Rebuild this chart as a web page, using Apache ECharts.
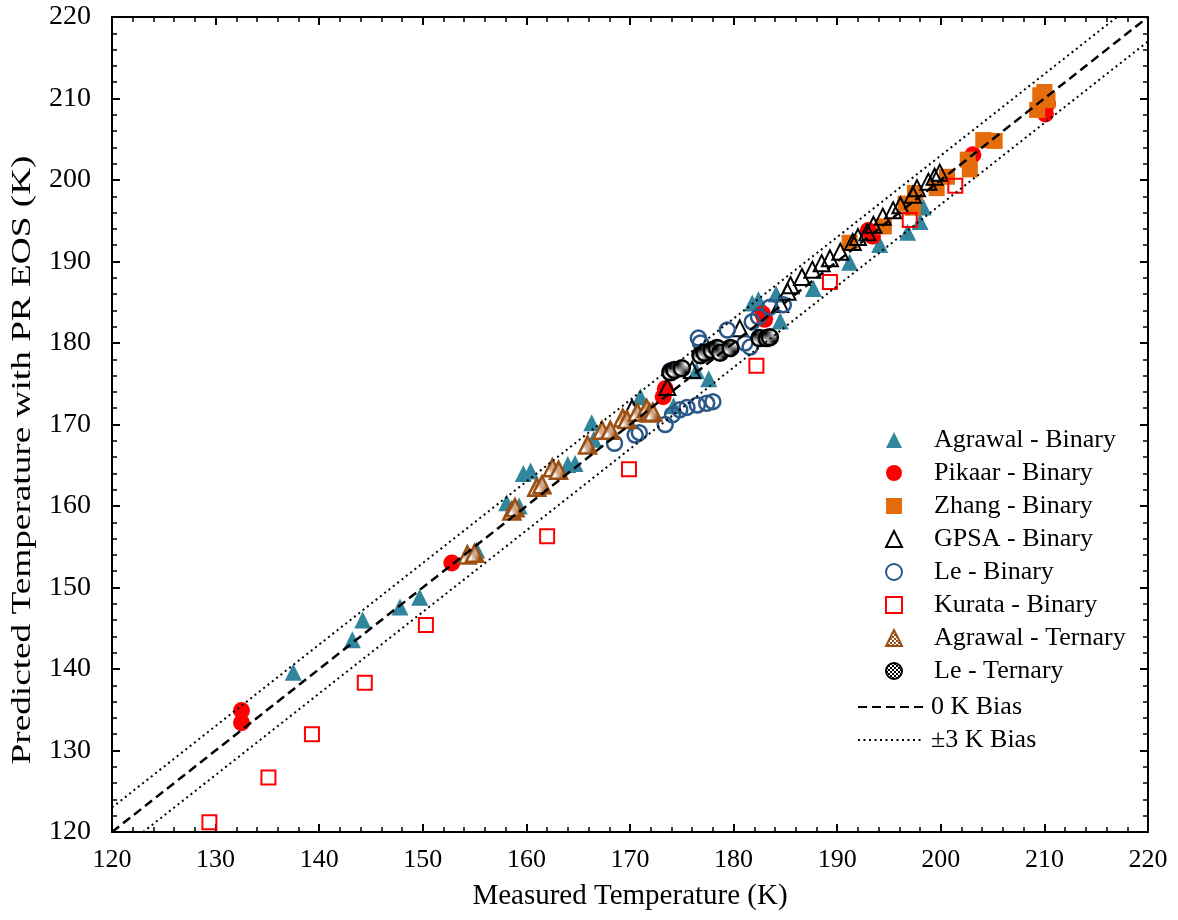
<!DOCTYPE html>
<html>
<head>
<meta charset="utf-8">
<script src="https://cdn.jsdelivr.net/npm/echarts@6/dist/echarts.min.js"></script>
<style>html,body{margin:0;padding:0;background:#fff}#c{width:1178px;height:920px}</style>
</head>
<body>
<div id="c"></div>
<script>
// ---- data (Measured K, Predicted K) ----
const agrawalBinary = [
  [137.5,139.6],[143.2,143.6],[144.2,146.0],[147.8,147.6],[149.7,148.8],[155.2,154.6],
  [158.1,160.4],[159.3,160.0],[159.7,164.0],[160.4,164.3],[164.0,165.1],[164.7,165.2],
  [166.3,170.2],[166.5,168.2],[171.0,173.4],[174.2,172.3],[176.4,176.6],[177.6,175.6],
  [181.8,184.9],[182.4,185.3],[184.1,186.0],[184.5,182.7],[187.7,186.7],[191.2,189.9],
  [194.1,192.1],[196.8,193.6],[198.0,194.9],[198.3,196.7]
];
const pikaarBinary = [
  [132.5,134.9],[132.5,133.4],[152.8,153.0],[173.2,173.4],[173.4,174.4],[182.8,183.6],[183.0,182.9],
  [193.0,193.8],[193.4,193.1],[203.1,203.1],[210.3,209.4],[210.1,208.1]
];
const zhangBinary = [
  [191.2,192.3],[194.5,194.3],[196.6,197.1],[197.3,196.6],[197.5,198.4],[199.6,199.0],[200.6,200.4],
  [202.6,202.5],[202.8,201.3],[204.1,204.9],[205.2,204.8],[209.3,208.6],[209.6,210.4],[210.3,209.8],[210.0,210.8]
];
const gpsaBinary = [
  [170.2,172.0],[173.6,174.6],[176.0,176.7],[180.6,181.8],[184.5,184.8],[185.2,186.3],[185.5,187.1],
  [186.6,188.1],[187.6,189.0],[188.5,189.8],[189.3,190.4],[190.3,191.2],[191.5,192.4],[192.0,193.0],
  [192.9,193.6],[193.5,194.5],[194.4,195.5],[195.4,196.3],[196.1,196.9],[197.3,198.2],[197.7,199.0],
  [198.8,199.8],[199.4,200.4],[199.9,200.9]
];
const leBinary = [
  [168.5,167.7],[170.5,168.7],[170.9,169.0],[173.4,170.0],[174.1,171.2],[174.8,171.8],[175.5,172.1],
  [176.5,172.4],[177.4,172.6],[178.0,172.8],[173.9,176.6],[176.6,180.6],[176.8,180.0],[179.4,181.6],
  [181.1,180.0],[181.6,179.5],[181.8,182.6],[182.4,183.2],[183.5,184.4],[184.8,184.7]
];
const kurataBinary = [
  [129.4,121.2],[135.1,126.7],[139.3,132.0],[144.4,138.3],[150.3,145.4],[162.0,156.3],[169.9,164.5],
  [182.2,177.2],[189.3,187.5],[197.0,195.1],[201.4,199.3]
];
const agrawalTernary = [
  [154.3,154.0],[155.0,154.2],[158.6,159.4],[158.9,159.8],[161.0,162.3],[161.5,162.6],[162.5,164.7],
  [163.1,164.4],[165.9,167.5],[167.3,169.3],[168.1,169.3],[169.3,170.8],[169.7,170.6],[170.7,171.5],
  [171.6,172.0],[171.9,171.4],[172.2,171.5]
];
const leTernary = [
  [173.9,176.4],[174.3,176.7],[175.0,176.9],[176.8,178.5],[177.2,178.8],[177.9,179.1],[178.4,179.4],
  [178.7,178.8],[179.7,179.4],[182.5,180.6],[183.2,180.6],[183.5,180.7]
];
const bias0 = [[120,120],[220,220]];
const biasPlus3 = [[120,123],[217,220]];
const biasMinus3 = [[123,120],[220,217]];
const axisMin = 120, axisMax = 220, axisStep = 10;
const markerNames = ['Agrawal - Binary','Pikaar - Binary','Zhang - Binary','GPSA - Binary','Le - Binary',
                     'Kurata - Binary','Agrawal - Ternary','Le - Ternary'];
const lineNames = ['0 K Bias','±3 K Bias'];
const xTitle = 'Measured Temperature (K)';
const yTitle = 'Predicted Temperature with PR EOS (K)';

// ---- styling helpers ----
function checker(c1, c2) {
  const cv = document.createElement('canvas');
  cv.width = 4; cv.height = 4;
  const g = cv.getContext('2d');
  g.fillStyle = c2; g.fillRect(0,0,4,4);
  g.fillStyle = c1; g.fillRect(0,0,2,2); g.fillRect(2,2,2,2);
  return {image: cv, repeat: 'repeat'};
}
const FONT = 'Liberation Serif';
const none = 'rgba(0,0,0,0)';

function scatter(name, data, symbol, size, style) {
  return {name, type: 'scatter', data, symbol, symbolSize: size,
    itemStyle: Object.assign({opacity: 1}, style), z: 3};
}
function line(name, data, type, width) {
  return {name, type: 'line', data, symbol: 'none', silent: true, z: 5,
    itemStyle: {color: none, borderColor: none},
    lineStyle: {color: '#000', width, type}};
}
const axisCommon = {
  type: 'value', min: axisMin, max: axisMax, interval: axisStep,
  axisLine: {show: true, lineStyle: {color: '#000', width: 2}},
  axisTick: {show: true, inside: true, length: 8, lineStyle: {color: '#000', width: 2}},
  minorTick: {show: true, splitNumber: 5, length: 5, lineStyle: {color: '#000', width: 1.5}},
  splitLine: {show: false},
};

const chart = echarts.init(document.getElementById('c'), null, {renderer: 'canvas'});
chart.setOption({
  animation: false,
  backgroundColor: '#fff',
  grid: {left: 112, right: 30, top: 17, bottom: 88},
  xAxis: [
    Object.assign({}, axisCommon, {position: 'bottom',
      name: xTitle, nameLocation: 'middle', nameGap: 50,
      nameTextStyle: {fontFamily: FONT, fontSize: 29, color: '#000'},
      axisLabel: {fontFamily: FONT, fontSize: 26, color: '#000', margin: 15}}),
    Object.assign({}, axisCommon, {position: 'top', axisLabel: {show: false}})
  ],
  yAxis: [
    Object.assign({}, axisCommon, {position: 'left',
      axisLabel: {fontFamily: FONT, fontSize: 28, color: '#000', margin: 21}}),
    Object.assign({}, axisCommon, {position: 'right', axisLabel: {show: false}})
  ],
  graphic: [{
    type: 'text', x: 23, y: 460, rotation: Math.PI / 2, scaleX: 1.38, silent: true,
    style: {text: yTitle, fontFamily: FONT, fontSize: 27, fill: '#000', align: 'center', verticalAlign: 'middle'}
  }],
  legend: [
    {
      orient: 'vertical', left: 880, top: 422,
      itemWidth: 16, itemHeight: 16, itemGap: 7,
      textStyle: {fontFamily: FONT, fontSize: 26, color: '#000', padding: [0, 0, 0, 27]},
      data: markerNames
    },
    {
      orient: 'vertical', left: 852, top: 689,
      itemWidth: 66, itemHeight: 14, itemGap: 7,
      textStyle: {fontFamily: FONT, fontSize: 26, color: '#000', padding: [0, 0, 0, 2]},
      data: lineNames
    }
  ],
  series: [
    scatter('Agrawal - Binary', agrawalBinary, 'triangle', 17, {color: '#31859C'}),
    scatter('Pikaar - Binary', pikaarBinary, 'circle', 17, {color: '#FF0000'}),
    scatter('Zhang - Binary', zhangBinary, 'rect', 16, {color: '#E46C0A'}),
    scatter('GPSA - Binary', gpsaBinary, 'triangle', 16, {color: none, borderColor: '#000', borderWidth: 2}),
    scatter('Le - Binary', leBinary, 'circle', 15, {color: none, borderColor: '#2A5888', borderWidth: 2.5}),
    scatter('Kurata - Binary', kurataBinary, 'rect', 14, {color: none, borderColor: '#FF0000', borderWidth: 2}),
    scatter('Agrawal - Ternary', agrawalTernary, 'triangle', 17, {color: checker('#9C4F12', '#fff'), borderColor: '#9C4F12', borderWidth: 2.5}),
    scatter('Le - Ternary', leTernary, 'circle', 16, {color: checker('#000', '#fff'), borderColor: '#000', borderWidth: 2.5}),
    line('0 K Bias', bias0, [9, 5], 2.5),
    line('±3 K Bias', biasPlus3, [2, 3.5], 2),
    line('±3 K Bias', biasMinus3, [2, 3.5], 2)
  ]
});
</script>
</body>
</html>
